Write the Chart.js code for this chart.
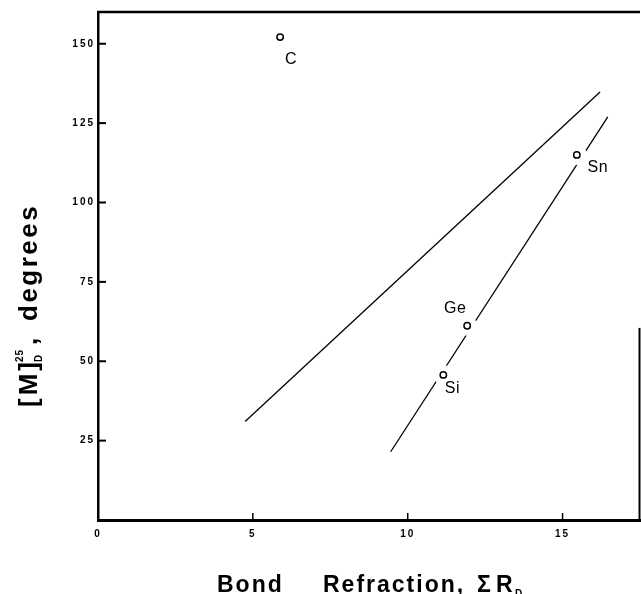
<!DOCTYPE html>
<html><head><meta charset="utf-8">
<script src="https://cdn.jsdelivr.net/npm/chart.js@4.4.1/dist/chart.umd.min.js"></script>
<style>html,body{margin:0;padding:0;background:#fff;overflow:hidden}</style>
</head><body>
<canvas id="c" width="641" height="594" style="display:block;width:641px;height:594px"></canvas>
<script>
// ---- data ----
const xTicks = [0, 5, 10, 15];
const yTicks = [25, 50, 75, 100, 125, 150];
const elements = ['C', 'Sn', 'Ge', 'Si'];
const bondRefraction = [5.88, 15.46, 11.92, 11.15];
const molarRotation = [152.1, 115.0, 61.2, 45.7];
const fitUpperX = [4.75, 16.21];
const fitUpperY = [31.0, 134.8];
const fitLowerX = [9.45, 16.46];
const fitLowerY = [21.5, 127.0];
const xRange = [0, 17.5];
const yRange = [0, 160];
const rightBorderFrom = 60.5; // value where the partial right frame starts

// ---- styling ----
const labelOffsets = { C: [11, 23], Sn: [21, 13], Ge: [-12, -17], Si: [9, 14] };
const SANS = "'Liberation Sans', Arial, sans-serif";

const pts = bondRefraction.map((x, i) => ({ x, y: molarRotation[i] }));
const line = (xs, ys) => xs.map((x, i) => ({ x, y: ys[i] }));

const decor = {
  id: 'decor',
  beforeDraw(chart) { chart.ctx.letterSpacing = '2px'; },
  beforeDatasetsDraw(chart) { chart.ctx.letterSpacing = '0px'; },
  afterDraw(chart) {
    const { ctx, chartArea: a, scales: { x, y } } = chart;
    ctx.save();
    ctx.strokeStyle = '#000';
    // top frame
    ctx.lineWidth = 2.5;
    ctx.beginPath(); ctx.moveTo(a.left - 1, a.top); ctx.lineTo(a.right, a.top); ctx.stroke();
    // partial right frame
    ctx.lineWidth = 2;
    ctx.beginPath(); ctx.moveTo(a.right - 0.5, y.getPixelForValue(rightBorderFrom)); ctx.lineTo(a.right - 0.5, a.bottom); ctx.stroke();
    // inward ticks
    ctx.lineWidth = 2;
    yTicks.forEach(v => { const py = y.getPixelForValue(v); ctx.beginPath(); ctx.moveTo(a.left, py); ctx.lineTo(a.left + 8, py); ctx.stroke(); });
    ctx.lineWidth = 1.5;
    xTicks.filter(v => v > xRange[0]).forEach(v => { const px = x.getPixelForValue(v); ctx.beginPath(); ctx.moveTo(px, a.bottom); ctx.lineTo(px, a.bottom - 7); ctx.stroke(); });

    // point labels
    ctx.fillStyle = '#000';
    ctx.letterSpacing = '0.5px';
    ctx.font = "16px 'Liberation Sans Narrow', " + SANS;
    ctx.textAlign = 'center'; ctx.textBaseline = 'middle';
    elements.forEach((el, i) => {
      const o = labelOffsets[el];
      ctx.fillText(el, x.getPixelForValue(bondRefraction[i]) + o[0], y.getPixelForValue(molarRotation[i]) + o[1]);
    });

    // x title
    ctx.textAlign = 'left'; ctx.textBaseline = 'alphabetic';
    ctx.font = 'bold 23px ' + SANS;
    ctx.letterSpacing = '2px';
    ctx.fillText('Bond', 217, 592);
    ctx.fillText('Refraction,', 323, 592);
    ctx.fillText('\u03A3', 477, 592);
    ctx.fillText('R', 496, 592);
    ctx.font = 'bold 10px ' + SANS;
    ctx.letterSpacing = '0px';
    ctx.fillText('D', 515, 597);

    // y title (rotated)
    ctx.translate(37, 407);
    ctx.rotate(-Math.PI / 2);
    ctx.font = 'bold 26px ' + SANS;
    ctx.letterSpacing = '3px';
    ctx.fillText('[M]', 0, 0);
    ctx.font = 'bold 10px ' + SANS;
    ctx.letterSpacing = '1px';
    ctx.fillText('25', 45, -14);
    ctx.fillText('D', 45, 5);
    ctx.font = 'bold 26px ' + SANS;
    ctx.fillText(',', 62, 0);
    ctx.letterSpacing = '2.5px';
    ctx.fillText('degrees', 86, 0);
    ctx.restore();
  }
};

new Chart(document.getElementById('c'), {
  type: 'scatter',
  data: {
    datasets: [
      { label: 'elements', data: pts, pointRadius: 3.2, pointHoverRadius: 3.2, pointBorderWidth: 1.5,
        borderColor: '#000', backgroundColor: '#fff', showLine: false },
      { label: 'gap', data: pts, pointRadius: 10, pointHoverRadius: 10, pointBorderWidth: 0,
        borderColor: '#fff', backgroundColor: '#fff', showLine: false },
      { label: 'fit upper', data: line(fitUpperX, fitUpperY), showLine: true, pointRadius: 0,
        borderColor: '#000', borderWidth: 1.3 },
      { label: 'fit lower', data: line(fitLowerX, fitLowerY), showLine: true, pointRadius: 0,
        borderColor: '#000', borderWidth: 1.3 }
    ]
  },
  options: {
    responsive: false,
    animation: false,
    devicePixelRatio: 1,
    layout: { autoPadding: false, padding: { top: 12, right: 1, left: 0, bottom: 0 } },
    plugins: { legend: { display: false }, tooltip: { enabled: false }, title: { display: false } },
    scales: {
      x: {
        type: 'linear', min: xRange[0], max: xRange[1],
        grid: { display: false, drawTicks: false },
        border: { display: true, width: 3, color: '#000' },
        ticks: { color: '#000', padding: 8, maxRotation: 0, font: { family: SANS, size: 10, weight: 'bold' } },
        afterBuildTicks: s => { s.ticks = xTicks.map(v => ({ value: v })); },
        afterFit: s => { s.height = 74; }
      },
      y: {
        type: 'linear', min: yRange[0], max: yRange[1],
        grid: { display: false, drawTicks: false },
        border: { display: true, width: 2.5, color: '#000' },
        ticks: { color: '#000', padding: 3, font: { family: SANS, size: 10, weight: 'bold' } },
        afterBuildTicks: s => { s.ticks = yTicks.map(v => ({ value: v })); },
        afterFit: s => { s.width = 98; }
      }
    }
  },
  plugins: [decor]
});
</script>
</body></html>
